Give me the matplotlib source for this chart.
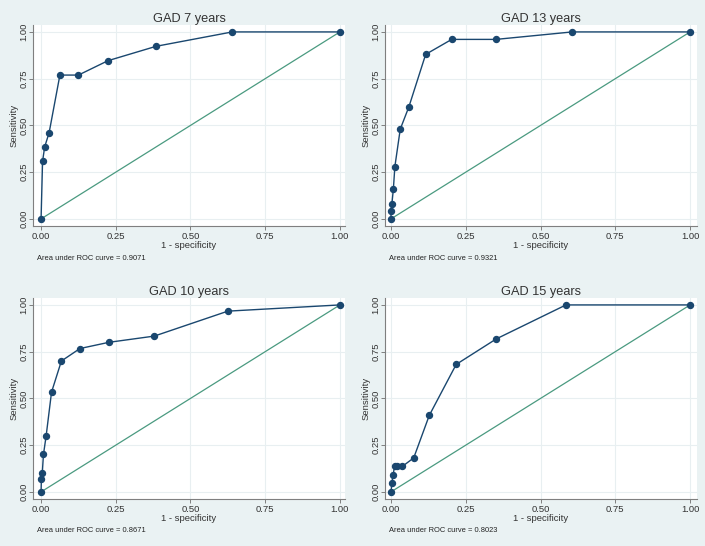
import matplotlib
matplotlib.use("Agg")
import matplotlib.pyplot as plt

plt.rcParams["font.family"] = ["Liberation Sans", "DejaVu Sans"]

titles = ["GAD 7 years", "GAD 13 years", "GAD 10 years", "GAD 15 years"]
auc_texts = ["Area under ROC curve = 0.9071", "Area under ROC curve = 0.9321",
             "Area under ROC curve = 0.8671", "Area under ROC curve = 0.8023"]

fpr_7 = [0, 0.005, 0.012, 0.027, 0.063, 0.125, 0.224, 0.385, 0.64, 1.0]
tpr_7 = [0, 0.3077, 0.3846, 0.4615, 0.7692, 0.7692, 0.8462, 0.9231, 1.0, 1.0]

fpr_13 = [0, 0.0, 0.003, 0.008, 0.013, 0.031, 0.06, 0.116, 0.203, 0.351, 0.606, 1.0]
tpr_13 = [0, 0.04, 0.08, 0.16, 0.28, 0.48, 0.60, 0.88, 0.96, 0.96, 1.0, 1.0]

fpr_10 = [0, 0.001, 0.004, 0.008, 0.017, 0.035, 0.068, 0.13, 0.227, 0.379, 0.625, 1.0]
tpr_10 = [0, 0.0667, 0.1, 0.2, 0.3, 0.5333, 0.7, 0.7667, 0.8, 0.8333, 0.9667, 1.0]

fpr_15 = [0, 0.003, 0.007, 0.012, 0.019, 0.038, 0.076, 0.128, 0.218, 0.352, 0.585, 1.0]
tpr_15 = [0, 0.0455, 0.0909, 0.1364, 0.1364, 0.1364, 0.1818, 0.4091, 0.6818, 0.8182, 1.0, 1.0]

ticks = [0, 0.25, 0.5, 0.75, 1.0]
tick_labels = ["0.00", "0.25", "0.50", "0.75", "1.00"]

series = [(fpr_7, tpr_7), (fpr_13, tpr_13), (fpr_10, tpr_10), (fpr_15, tpr_15)]

BG = "#eaf2f3"
NAVY = "#1a476f"
GREEN = "#4a9a80"

fig = plt.figure(figsize=(7.05, 5.46), dpi=100, facecolor=BG)
W, H = 705.0, 546.0
# (left px, top px, right px, bottom px, xlim)
boxes = [
    (33, 25, 345, 226, (-0.027, 1.017)),
    (385, 25, 697, 226, (-0.020, 1.023)),
    (33, 298, 345, 499, (-0.027, 1.017)),
    (385, 298, 697, 499, (-0.020, 1.023)),
]

for i, (l, t, r, b, xl) in enumerate(boxes):
    ax = fig.add_axes([l / W, (H - b) / H, (r - l) / W, (b - t) / H])
    ax.set_facecolor("white")
    fx, ty = series[i]
    ax.plot([0, 1], [0, 1], color=GREEN, lw=0.9, zorder=2)
    ax.plot(fx, ty, color=NAVY, lw=1.0, marker="o", markersize=4.3,
            markerfacecolor=NAVY, markeredgecolor=NAVY, zorder=3)
    ax.set_xlim(*xl)
    ax.set_ylim(-0.038, 1.037)
    ax.set_xticks(ticks)
    ax.set_xticklabels(tick_labels)
    ax.set_yticks(ticks)
    ax.set_yticklabels(tick_labels, rotation=90, va="center")
    ax.grid(True, color="#e8eff1", lw=0.8, zorder=0)
    ax.set_axisbelow(True)
    for s in ["top", "right"]:
        ax.spines[s].set_visible(False)
    for s in ["left", "bottom"]:
        ax.spines[s].set_color("#7f7f7f")
        ax.spines[s].set_linewidth(0.8)
    ax.tick_params(axis="both", direction="out", length=3, width=0.7,
                   color="#7f7f7f", labelsize=6.8, labelcolor="#333333")
    ax.tick_params(axis="x", pad=1.5)
    ax.tick_params(axis="y", pad=0.5)
    ax.set_xlabel("1 - specificity", fontsize=6.8, color="#333333", labelpad=0)
    ax.set_ylabel("Sensitivity", fontsize=6.8, color="#333333", labelpad=0.5)
    ax.set_title(titles[i], fontsize=9.2, color="#333333", pad=2)
    ax.text(l / W + 4 / W, (H - b - 32) / H, auc_texts[i], transform=fig.transFigure,
            fontsize=5.4, color="#222222", va="center", ha="left")

fig.savefig("out.png", dpi=100, facecolor=BG)
